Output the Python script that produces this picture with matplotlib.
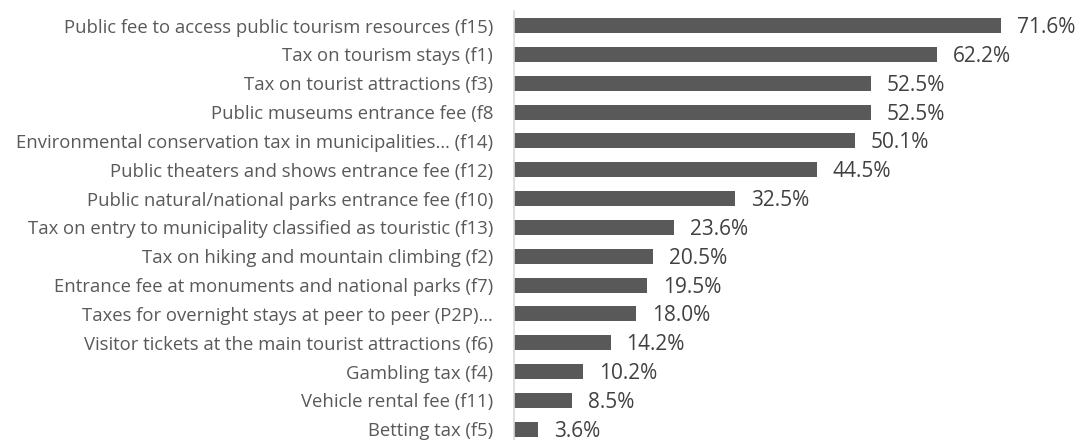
import matplotlib
matplotlib.use("Agg")
import matplotlib.pyplot as plt

categories = [
    "Public fee to access public tourism resources (f15)",
    "Tax on tourism stays (f1)",
    "Tax on tourist attractions (f3)",
    "Public museums entrance fee (f8",
    "Environmental conservation tax in municipalities… (f14)",
    "Public theaters and shows entrance fee (f12)",
    "Public natural/national parks entrance fee (f10)",
    "Tax on entry to municipality classified as touristic (f13)",
    "Tax on hiking and mountain climbing (f2)",
    "Entrance fee at monuments and national parks (f7)",
    "Taxes for overnight stays at peer to peer (P2P)…",
    "Visitor tickets at the main tourist attractions (f6)",
    "Gambling tax (f4)",
    "Vehicle rental fee (f11)",
    "Betting tax (f5)",
]
values = [71.6, 62.2, 52.5, 52.5, 50.1, 44.5, 32.5, 23.6, 20.5, 19.5, 18.0, 14.2, 10.2, 8.5, 3.6]

plt.rcParams['font.family'] = ['Open Sans', 'DejaVu Sans']
grey = '#595959'

W, H = 1081, 440
fig = plt.figure(figsize=(W / 100, H / 100), dpi=100)
ax = fig.add_axes([514 / W, (H - 443.6) / H, 544 / W, 432.5 / H])

y = list(range(len(values)))[::-1]
ax.barh(y, values, height=0.52, color=grey, left=0)
for yi, v in zip(y, values):
    ax.annotate(f"{v:.1f}%", xy=(v, yi), xytext=(11.5, -1.5), textcoords='offset points',
                va='center', ha='left', fontsize=15, color='#404040')

ax.set_yticks(y)
ax.set_yticklabels(categories, fontsize=13.3, color=grey)
ax.set_ylim(-0.5, len(values) - 0.5)
ax.set_xlim(0, 80)
ax.set_xticks([])
for s in ['top', 'right', 'bottom']:
    ax.spines[s].set_visible(False)
ax.spines['left'].set_color('#d9d9d9')
ax.spines['left'].set_linewidth(1.2)
ax.tick_params(axis='y', length=0, pad=15)

fig.savefig("out.png", dpi=100)
